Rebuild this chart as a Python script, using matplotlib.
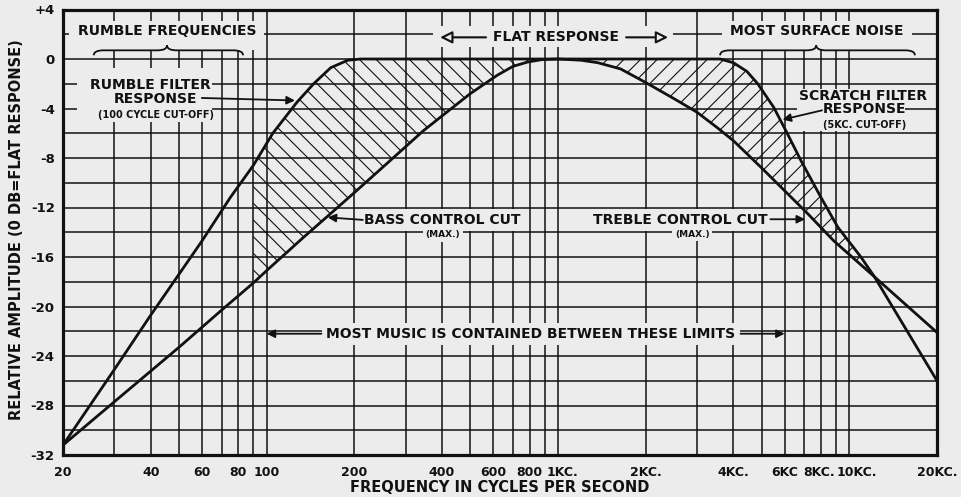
import numpy as np
import matplotlib.pyplot as plt
from matplotlib.patches import Rectangle, PathPatch
from matplotlib.path import Path
from matplotlib.ticker import NullLocator
from matplotlib.transforms import ScaledTranslation

# filter response (rumble + scratch filters), cycles per second / db
filter_freq = [20, 30, 40, 50, 60, 75, 90, 105, 127, 145, 166, 190, 210, 1000,
               3600, 4000, 4450, 4850, 5500, 6060, 6820, 8000, 9140, 10960, 12200, 20000]
filter_db = [-31.2, -25.1, -20.7, -17.4, -14.7, -11.2, -8.6, -6.0, -3.5, -2.0, -0.7, -0.1, 0.0, 0.0,
             0.0, -0.3, -1.0, -2.0, -3.9, -5.8, -8.2, -11.2, -13.6, -16.0, -17.6, -26.0]

# bass / treble control at maximum cut
tone_freq = [20, 30, 50, 70, 90, 100, 134, 162, 200, 260, 345, 400, 500, 620, 700, 785, 880, 1000,
             1200, 1370, 1640, 2000, 2500, 3000, 3500, 4000, 5000, 6150, 7200, 8850, 12200, 20000]
tone_db = [-31.2, -27.7, -23.3, -20.3, -18.1, -17.1, -14.4, -12.7, -10.8, -8.4, -5.8, -4.6, -2.8, -1.3,
           -0.6, -0.25, -0.05, 0.0, -0.1, -0.3, -0.8, -1.9, -3.2, -4.3, -5.5, -6.6, -8.8, -10.9, -12.5,
           -14.7, -17.6, -22.1]

grid_freq = [20, 30, 40, 50, 60, 70, 80, 90, 100, 200, 300, 400, 500, 600, 700, 800, 900,
             1000, 2000, 3000, 4000, 5000, 6000, 7000, 8000, 9000, 10000, 20000]
freq_labels = {20: '20', 40: '40', 60: '60', 80: '80', 100: '100', 200: '200', 400: '400',
               600: '600', 800: '800', 1000: '1KC.', 2000: '2KC.', 4000: '4KC.', 6000: '6KC',
               8000: '8KC.', 10000: '10KC.', 20000: '20KC.'}
db_grid = list(range(-32, 5, 2))
db_labels = {v: ('+4' if v == 4 else str(v)) for v in range(-32, 5, 4)}

bg = '#ececec'
ink = '#111111'
plt.rcParams['font.family'] = 'DejaVu Sans'
plt.rcParams['font.weight'] = 'bold'
plt.rcParams['hatch.linewidth'] = 0.8
plt.rcParams['hatch.color'] = ink

fig = plt.figure(figsize=(9.61, 4.97), dpi=100, facecolor=bg)
ax = fig.add_axes([63 / 961, 1 - 455 / 497, 874 / 961, 445.5 / 497], facecolor=bg)
ax.set_xscale('log')
ax.set_xlim(20, 20000)
ax.set_ylim(-32, 4)
ax.xaxis.set_minor_locator(NullLocator())
ax.set_xticks(grid_freq, labels=[freq_labels.get(f, '') for f in grid_freq])
ax.set_yticks(db_grid, labels=[db_labels.get(v, '') for v in db_grid])
ax.tick_params(length=0, colors=ink)
ax.tick_params(axis='x', pad=8, labelsize=9)
ax.tick_params(axis='y', pad=6, labelsize=9.5)
ax.set_axisbelow(True)
ax.grid(True, color=ink, lw=1.1)
for s in ax.spines.values():
    s.set_linewidth(2.3)
    s.set_color(ink)
    s.set_zorder(6)

ax.set_xlabel('FREQUENCY IN CYCLES PER SECOND', fontsize=10.5, fontweight='bold', color=ink)
ax.set_ylabel('RELATIVE AMPLITUDE (0 DB=FLAT RESPONSE)', fontsize=10.5, fontweight='bold', color=ink)
ax.xaxis.label.set_va('center')
ax.yaxis.label.set_va('center')
ax.xaxis.set_label_coords(0.5, -0.074)
ax.yaxis.set_label_coords(-0.053, 0.505)

ff = np.array(filter_freq, float)
fd = np.array(filter_db, float)
tf = np.array(tone_freq, float)
td = np.array(tone_db, float)


def band(lo, hi, hatch):
    # hatched area between filter curve (top) and tone curve (bottom)
    m1 = (ff >= lo) & (ff <= hi)
    m2 = (tf >= lo) & (tf <= hi)
    xs = np.concatenate([ff[m1], tf[m2][::-1]])
    ys = np.concatenate([fd[m1], td[m2][::-1]])
    ax.fill(xs, ys, facecolor='none', edgecolor=ink, lw=0, hatch=hatch, zorder=1)


band(90, 1000, '\\\\')
band(1000, 12200, '//')

ax.plot(ff, fd, color=ink, lw=2.0, zorder=4, solid_joinstyle='round')
ax.plot(tf, td, color=ink, lw=2.0, zorder=4, solid_joinstyle='round')


def blank(f0, f1, y0, y1):
    ax.add_patch(Rectangle((f0, y0), f1 - f0, y1 - y0, fc=bg, ec='none', zorder=2))


def brace(f0, f1, fm, y, h=0.4):
    P = Path
    verts = [(f0, y - h), (f0, y), (f0 * 1.08, y), (fm / 1.08, y), (fm, y), (fm, y + h),
             (fm, y), (fm * 1.08, y), (f1 / 1.08, y), (f1, y), (f1, y - h)]
    codes = [P.MOVETO, P.CURVE3, P.CURVE3, P.LINETO, P.CURVE3, P.CURVE3,
             P.CURVE3, P.CURVE3, P.LINETO, P.CURVE3, P.CURVE3]
    ax.add_patch(PathPatch(Path(verts, codes), fc='none', ec=ink, lw=1.3, zorder=3))


def label(x, y, s, fs=10, box=True):
    kw = dict(boxstyle='square,pad=0.3', fc=bg, ec='none') if box else None
    return ax.text(x, y, s, fontsize=fs, fontweight='bold', color=ink, ha='center',
                   va='center', zorder=3, bbox=kw)


def arrow(x0, y0, x1, y1, hollow=False):
    if hollow:
        props = dict(arrowstyle='-|>,head_length=0.6,head_width=0.3', fc=bg, ec=ink,
                     lw=1.5, mutation_scale=12, shrinkA=0, shrinkB=0)
    else:
        props = dict(arrowstyle='-|>', fc=ink, ec=ink, lw=1.3, mutation_scale=12,
                     shrinkA=0, shrinkB=0)
    ax.annotate('', xy=(x1, y1), xytext=(x0, y0), arrowprops=props, zorder=5)


# header row
blank(21, 98, 0.75, 3.1)
blank(3660, 16400, 0.75, 3.1)
blank(373, 2480, 0.95, 2.7)
label(45.5, 2.3, 'RUMBLE FREQUENCIES', box=False)
brace(25.5, 83, 45.5, 0.7)
label(7750, 2.3, 'MOST SURFACE NOISE', box=False)
brace(3600, 16800, 7700, 0.7)
flat = label(985, 1.75, 'FLAT RESPONSE', box=False)

# side notes
blank(22.3, 65, -5.1, -0.75)
label(40, -2.1, 'RUMBLE FILTER', box=False)
rumble = label(41.4, -3.25, 'RESPONSE', box=False)
label(41.7, -4.5, '(100 CYCLE CUT-OFF)', fs=7, box=False)

blank(6600, 15500, -5.8, -2.4)
label(11150, -2.95, 'SCRATCH FILTER', box=False)
scratch = label(11300, -4.07, 'RESPONSE', box=False)
label(11300, -5.3, '(5KC. CUT-OFF)', fs=7, box=False)

bass = label(400, -13.0, 'BASS CONTROL CUT')
label(402, -14.2, '(MAX.)', fs=6.5)
treble = label(2625, -13.0, 'TREBLE CONTROL CUT')
label(2886, -14.15, '(MAX.)', fs=6.5)
music = label(808, -22.2, 'MOST MUSIC IS CONTAINED BETWEEN THESE LIMITS')

fig.canvas.draw()

# nudge crowded frequency labels sideways (pixels)
nudge = {1000: 4, 8000: -2, 10000: 8}
for f, t in zip(grid_freq, ax.get_xticklabels()):
    if f in nudge:
        t.set_transform(t.get_transform() + ScaledTranslation(nudge[f] / 100, 0, fig.dpi_scale_trans))

inv = ax.transData.inverted()


def edges(t, gap=4):
    bb = t.get_window_extent()
    x0 = inv.transform((bb.x0 - gap, bb.y0))[0]
    x1 = inv.transform((bb.x1 + gap, bb.y0))[0]
    return x0, x1


l, r = edges(flat, 7)
arrow(l, 1.75, 394, 1.75, hollow=True)
arrow(r, 1.75, 2388, 1.75, hollow=True)

l, r = edges(music, 5)
arrow(l, -22.2, 100, -22.2)
arrow(r, -22.2, 6000, -22.2)

l, r = edges(rumble, 5)
arrow(r, -3.15, 125, -3.35)
l, r = edges(scratch, 1)
arrow(l, -4.15, 5900, -4.9)
l, r = edges(bass, 1)
arrow(l, -13.0, 162, -12.8)
l, r = edges(treble, 3)
arrow(r, -12.95, 7050, -12.95)

fig.savefig('out.png', dpi=100, facecolor=bg)
